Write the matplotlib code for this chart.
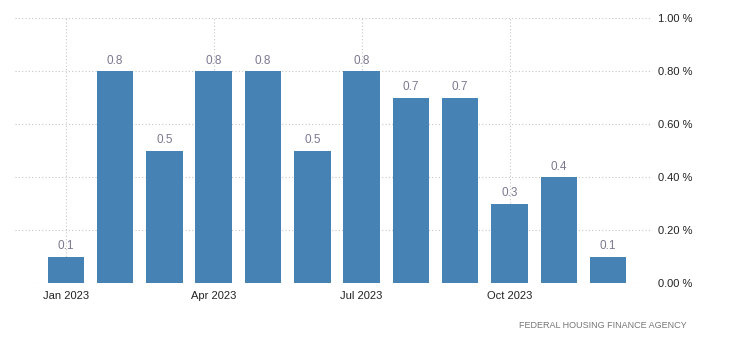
import numpy as np
import matplotlib.pyplot as plt

months = ['Jan', 'Feb', 'Mar', 'Apr', 'May', 'Jun', 'Jul', 'Aug', 'Sep', 'Oct', 'Nov', 'Dec']
values = [0.1, 0.8, 0.5, 0.8, 0.8, 0.5, 0.8, 0.7, 0.7, 0.3, 0.4, 0.1]
xtick_pos = [0, 3, 6, 9]
xtick_labels = ['Jan 2023', 'Apr 2023', 'Jul 2023', 'Oct 2023']
yticks = [0.0, 0.2, 0.4, 0.6, 0.8, 1.0]

plt.rcParams['font.family'] = ['Liberation Sans', 'DejaVu Sans']

fig = plt.figure(figsize=(7.31, 3.5), dpi=100)
ax = fig.add_axes([15 / 731, 67 / 350, (652 - 15) / 731, (283 - 18) / 350])

x = np.arange(len(months))
ax.bar(x, values, width=0.74, color='#4682b4', zorder=3)

for xi, v in zip(x, values):
    ax.annotate(f'{v:.1f}', (xi, v), xytext=(0, 3), textcoords='offset points',
                ha='center', va='bottom', fontsize=8.5, color='#7c7891', zorder=4)

ax.set_xlim(-1.03, 11.89)
ax.set_ylim(0, 1.0)

ax.set_xticks(xtick_pos)
ax.set_xticklabels(xtick_labels, fontsize=8, color='#222222')
ax.set_yticks(yticks)
ax.set_yticklabels([f'{t:.2f} %' for t in yticks], fontsize=8, color='#222222')
ax.yaxis.tick_right()
ax.tick_params(axis='both', length=0, pad=6)
ax.tick_params(axis='y', pad=4)

ax.grid(True, color='#c8c8c8', linestyle=(0, (1, 2)), linewidth=0.8, zorder=0)
for s in ax.spines.values():
    s.set_visible(False)

fig.text(687 / 731, 1 - 325 / 350, 'FEDERAL HOUSING FINANCE AGENCY', ha='right', va='center',
         fontsize=6.5, color='#777777')

fig.savefig('out.png', dpi=100)
